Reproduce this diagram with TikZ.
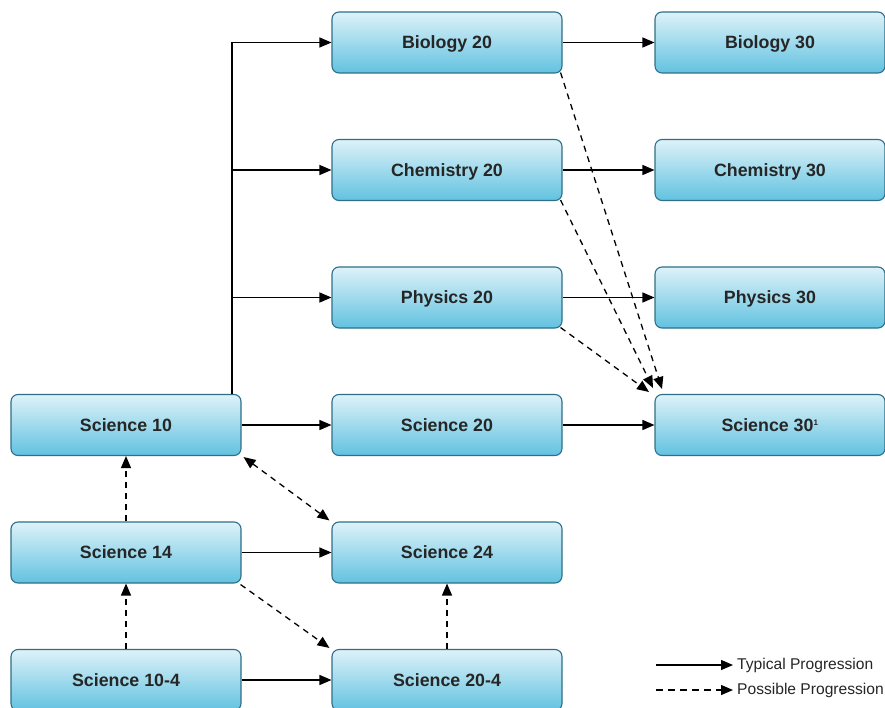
\documentclass[tikz,border=0pt]{standalone}
\usepackage{fontspec}
\setmainfont{Liberation Sans}
\usetikzlibrary{arrows.meta}
\definecolor{boxtop}{HTML}{DDF2F9}
\definecolor{boxbot}{HTML}{62C2E0}
\definecolor{boxline}{HTML}{2F6F88}
\tikzset{
  course/.style={draw=boxline, line width=1.1pt, rounded corners=7pt,
    top color=boxtop, bottom color=boxbot, minimum width=230pt, minimum height=61pt,
    inner sep=0pt, text height=12.8pt, text depth=0pt,
    font=\fontsize{17.8}{20}\selectfont\bfseries, text=black!85},
  arr/.style={line width=1.3pt, -{Triangle[length=12pt,width=10pt]}},
  darr/.style={arr, dash pattern=on 6pt off 5pt},
  ddarr/.style={darr, {Triangle[length=12pt,width=10pt]}-{Triangle[length=12pt,width=10pt]}},
  legtext/.style={anchor=west, inner sep=0pt, font=\fontsize{15.6}{17}\selectfont, text=black!85}
}
\begin{document}
\begin{tikzpicture}[x=1pt,y=-1pt]
\useasboundingbox[fill=white] (0,0) rectangle (885,708);
% column 1
\node[course] (s10)  at (126,425) {Science 10};
\node[course] (s14)  at (126,552.5) {Science 14};
\node[course] (s104) at (126,680) {Science 10-4};
% column 2
\node[course] (bio20)  at (447,42.5) {Biology 20};
\node[course] (chem20) at (447,170) {Chemistry 20};
\node[course] (phys20) at (447,297.5) {Physics 20};
\node[course] (s20)    at (447,425) {Science 20};
\node[course] (s24)    at (447,552.5) {Science 24};
\node[course] (s204)   at (447,680) {Science 20-4};
% column 3
\node[course] (bio30)  at (770,42.5) {Biology 30};
\node[course] (chem30) at (770,170) {Chemistry 30};
\node[course] (phys30) at (770,297.5) {Physics 30};
\node[course] (s30)    at (770,425) {Science 30\textsuperscript{\fontsize{8}{8}\selectfont 1}};
% trunk
\coordinate (tb) at (232,42.5);
\draw[arr] (s10.north -| tb) |- (bio20.west);
\draw[arr] (tb |- chem20.west) -- (chem20.west);
\draw[arr] (tb |- phys20.west) -- (phys20.west);
\draw[arr] (s10.east) -- (s20.west);
% to column 3
\draw[arr] (bio20.east) -- (bio30.west);
\draw[arr] (chem20.east) -- (chem30.west);
\draw[arr] (phys20.east) -- (phys30.west);
\draw[arr] (s20.east) -- (s30.west);
% possible progressions to Science 30
\coordinate (t1) at (662,389);
\coordinate (t2) at (653,388);
\coordinate (t3) at (649,392);
\draw[darr] (bio20.south east) ++(-2,-1) -- (t1);
\draw[darr] (chem20.south east) ++(-2,-1) -- (t2);
\draw[darr] (phys20.south east) ++(-2,-1) -- (t3);
% lower part
\draw[ddarr] ([xshift=2pt,yshift=-1pt]s10.south east) -- ([xshift=-2pt,yshift=1pt]s24.north west);
\draw[darr] (s14.north) -- (s10.south);
\draw[arr] (s14.east) -- (s24.west);
\draw[darr] ([xshift=-1pt,yshift=-1pt]s14.south east) -- ([xshift=-2pt,yshift=1pt]s204.north west);
\draw[darr] (s104.north) -- (s14.south);
\draw[arr] (s104.east) -- (s204.west);
\draw[darr] (s204.north) -- (s24.south);
% legend
\coordinate (la) at (656,665);
\coordinate (lb) at (733,665);
\coordinate (lc) at (656,690);
\coordinate (ld) at (733,690);
\draw[arr] (la) -- (lb);
\draw[darr, dash pattern=on 7pt off 5pt] (lc) -- (ld);
\node[legtext] (lt1) at (737,665) {Typical Progression};
\node[legtext] (lt2) at (737,690) {Possible Progression};
\end{tikzpicture}
\end{document}
